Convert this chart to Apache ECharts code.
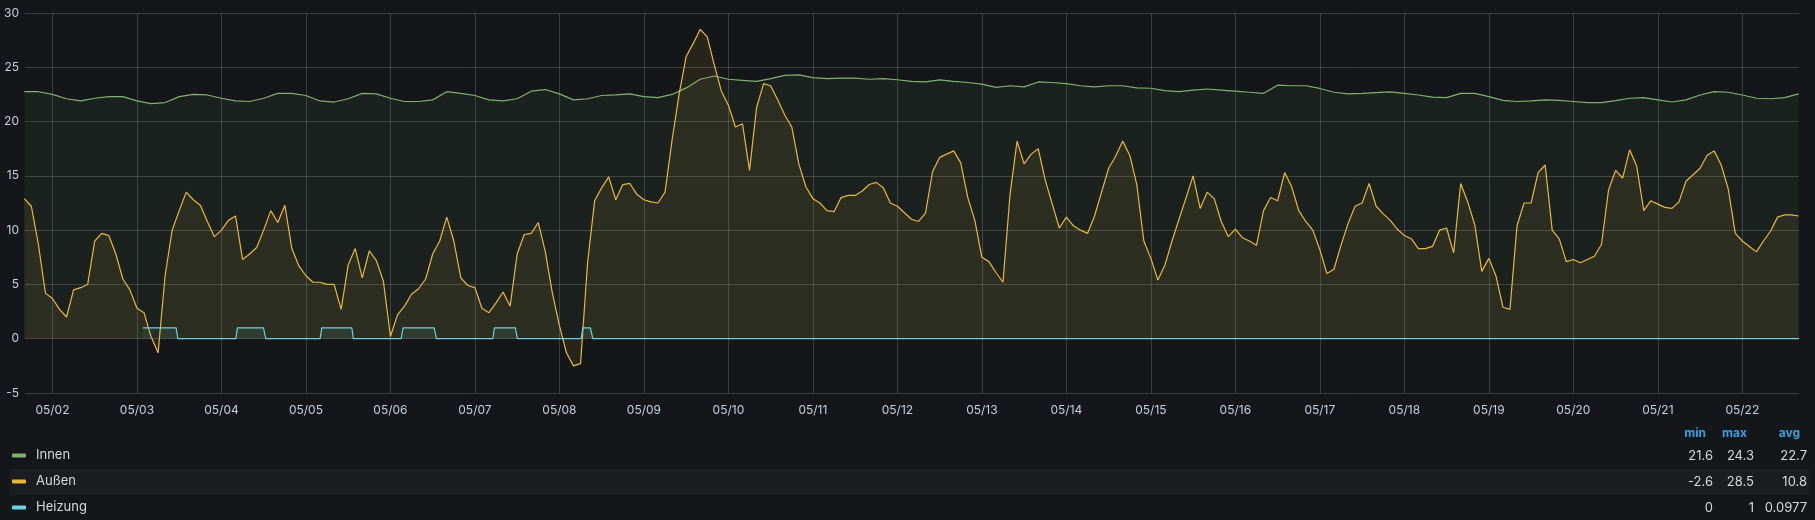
<!DOCTYPE html>
<html><head><meta charset="utf-8">
<script src="https://cdn.jsdelivr.net/npm/echarts@6/dist/echarts.min.js"></script>
<style>html,body{margin:0;padding:0;background:#141619;}#c{width:1815px;height:520px;}</style>
</head><body><div id="c"></div>
<script>
const YEAR = 2021;
const seriesNames = ['Innen', 'Außen', 'Heizung'];
const seriesColors = ['#7EB26D', '#EAB839', '#6ED0E0'];
const seriesFill = [0.1, 0.12, 0.12];
const xMin = '05-01 16:12';
const xMax = '05-22 16:06';
const yMin = -5, yMax = 30, yStep = 5;

// Innen: every 4 hours from 05-01 16:00
const innenStart = '05-01 16:00';
const innenStepHours = 4;
const innen = [22.76,22.75,22.5,22.1,21.9,22.15,22.3,22.3,21.9,21.65,
21.75,22.3,22.5,22.45,22.15,21.9,21.85,22.15,22.6,22.6,
22.4,21.9,21.8,22.1,22.6,22.55,22.15,21.85,21.85,22.0,
22.75,22.6,22.4,22.0,21.9,22.1,22.8,22.95,22.55,22.0,
22.1,22.4,22.45,22.55,22.3,22.2,22.5,23.1,23.9,24.2,
23.9,23.8,23.7,23.95,24.25,24.3,24.05,23.95,24.0,24.0,
23.9,23.95,23.85,23.7,23.65,23.84,23.7,23.6,23.45,23.15,
23.3,23.2,23.65,23.6,23.5,23.3,23.2,23.3,23.3,23.1,
23.07,22.85,22.75,22.9,23.0,22.9,22.8,22.7,22.6,23.35,
23.3,23.3,23.05,22.7,22.55,22.6,22.67,22.73,22.6,22.45,
22.25,22.2,22.6,22.6,22.3,21.95,21.85,21.9,22.0,21.95,
21.85,21.75,21.75,21.93,22.15,22.2,22.0,21.8,22.0,22.45,
22.76,22.7,22.45,22.15,22.1,22.2,22.55];

// Außen: every 2 hours from 05-01 16:00
const aussenStart = '05-01 16:00';
const aussenStepHours = 2;
const aussen = [12.9,12.2,8.7,4.2,3.7,2.7,2.0,4.5,4.7,5.0,
9.0,9.7,9.5,7.8,5.5,4.5,2.8,2.4,0.2,-1.3,
5.8,10.0,11.8,13.5,12.8,12.3,10.8,9.4,10.0,10.9,
11.3,7.3,7.8,8.4,10.0,11.8,10.7,12.3,8.3,6.7,
5.8,5.2,5.2,5.0,5.0,2.7,6.8,8.3,5.6,8.1,
7.2,5.3,0.2,2.2,3.0,4.1,4.6,5.5,7.8,9.0,
11.2,9.0,5.6,4.9,4.7,2.8,2.4,3.3,4.3,3.0,
7.8,9.6,9.7,10.7,8.0,4.2,1.2,-1.3,-2.5,-2.3,
7.0,12.7,13.9,14.9,12.8,14.2,14.3,13.3,12.8,12.6,
12.5,13.5,18.3,22.5,26.0,27.2,28.5,27.8,25.2,22.8,
21.5,19.5,19.8,15.5,21.3,23.5,23.3,22.0,20.6,19.5,
16.1,14.0,12.9,12.5,11.8,11.7,13.0,13.2,13.2,13.6,
14.2,14.4,13.9,12.5,12.2,11.6,11.0,10.8,11.6,15.4,
16.7,17.0,17.3,16.2,13.0,10.9,7.5,7.1,6.1,5.2,
13.3,18.2,16.1,17.0,17.5,14.6,12.4,10.2,11.2,10.4,
10.0,9.7,11.3,13.5,15.7,16.8,18.2,16.9,14.2,9.0,
7.4,5.4,6.8,9.0,11.0,13.0,15.0,12.0,13.5,12.9,
10.8,9.4,10.1,9.3,9.0,8.6,11.8,13.0,12.7,15.3,
14.0,11.8,10.8,10.0,8.2,6.0,6.4,8.6,10.6,12.2,
12.5,14.3,12.2,11.5,10.9,10.1,9.5,9.2,8.3,8.3,
8.5,10.0,10.2,7.9,14.3,12.6,10.5,6.2,7.4,5.8,
2.9,2.7,10.4,12.5,12.5,15.3,16.0,10.0,9.2,7.1,
7.3,7.0,7.3,7.6,8.7,13.7,15.5,14.8,17.4,15.9,
11.8,12.7,12.4,12.1,12.0,12.6,14.5,15.1,15.7,16.9,
17.3,16.0,13.8,9.7,9.0,8.5,8.0,9.0,9.9,11.2,
11.4,11.4,11.3];

// Heizung: on/off switching points
const heizungTimes = ['05-03 01:41','05-03 11:08','05-03 11:37',
'05-04 04:05','05-04 04:32','05-04 11:56','05-04 12:36',
'05-05 04:02','05-05 04:30','05-05 13:02','05-05 13:29',
'05-06 03:03','05-06 03:36','05-06 12:25','05-06 13:05',
'05-07 05:05','05-07 05:32','05-07 11:30','05-07 12:04',
'05-08 06:10','05-08 06:39','05-08 08:48','05-08 09:29',
'05-22 16:06'];
const heizungValues = [1,1,0, 0,1,1,0, 0,1,1,0, 0,1,1,0, 0,1,1,0, 0,1,1,0, 0];

// Legend table (as shown in the reference)
const statHeaders = ['min', 'max', 'avg'];
const statMin = ['21.6', '-2.6', '0'];
const statMax = ['24.3', '28.5', '1'];
const statAvg = ['22.7', '10.8', '0.0977'];

function t(s) {
  const [md, hm] = s.split(' ');
  const [mo, d] = md.split('-').map(Number);
  const [h, m] = hm.split(':').map(Number);
  return new Date(YEAR, mo - 1, d, h, m).getTime();
}
function regular(startStr, stepH, vals) {
  const s = t(startStr);
  return vals.map((v, i) => [s + i * stepH * 3600000, v]);
}

const font = 'Inter, Roboto, sans-serif';
const textCol = '#c7d0d9';
const gridCol = 'rgba(255,255,255,0.17)';
const rowY = [456, 482, 508];

const chart = echarts.init(document.getElementById('c'), null, {renderer: 'canvas'});

const legends = seriesNames.map((n, i) => ({
  data: [n], left: 12, top: rowY[i] - 7, padding: 0, orient: 'horizontal',
  icon: 'roundRect', itemWidth: 14, itemHeight: 4, selectedMode: false,
  textStyle: {color: '#d8d9da', fontSize: 13, fontFamily: font, padding: [0, 0, 0, 5]}
}));

const graphics = [{
  type: 'rect', z: -10, silent: true,
  shape: {x: 10, y: 469, width: 1800, height: 26},
  style: {fill: '#1b1d21'}
}];
const headX = [1706, 1747, 1800];
statHeaders.forEach((h, i) => graphics.push({
  type: 'text', silent: true,
  style: {text: h, x: headX[i], y: 433, textAlign: 'right', textVerticalAlign: 'middle',
    fill: '#33a2e5', font: 'bold 12px ' + font}
}));
const colX = [1713, 1754, 1807];
[statMin, statMax, statAvg].forEach((col, ci) => col.forEach((v, ri) => graphics.push({
  type: 'text', silent: true,
  style: {text: v, x: colX[ci], y: rowY[ri], textAlign: 'right', textVerticalAlign: 'middle',
    fill: '#d8d9da', font: '13px ' + font}
})));

function hexA(hex, a) {
  const r = parseInt(hex.slice(1, 3), 16), g = parseInt(hex.slice(3, 5), 16), b = parseInt(hex.slice(5, 7), 16);
  return `rgba(${r},${g},${b},${a})`;
}
const datasets = [
  regular(innenStart, innenStepHours, innen),
  regular(aussenStart, aussenStepHours, aussen),
  heizungTimes.map((s, i) => [t(s), heizungValues[i]])
];

chart.setOption({
  backgroundColor: '#141619',
  animation: false,
  textStyle: {fontFamily: font},
  grid: {left: 25, right: 16, top: 13, bottom: 127, containLabel: false},
  legend: legends,
  graphic: graphics,
  xAxis: {
    type: 'time', min: t(xMin), max: t(xMax),
    minInterval: 86400000, maxInterval: 86400000, splitNumber: 21,
    axisLine: {show: false}, axisTick: {show: false},
    axisLabel: {color: textCol, fontSize: 12, fontFamily: font, margin: 11,
      formatter: '{MM}/{dd}', showMinLabel: false, showMaxLabel: false, hideOverlap: false},
    splitLine: {show: true, showMinLine: false, showMaxLine: false, lineStyle: {color: gridCol, width: 1}}
  },
  yAxis: {
    type: 'value', min: yMin, max: yMax, interval: yStep,
    axisLine: {show: false}, axisTick: {show: false},
    axisLabel: {color: textCol, fontSize: 12, fontFamily: font, margin: 6},
    splitLine: {show: true, lineStyle: {color: gridCol, width: 1}}
  },
  series: seriesNames.map((n, i) => ({
    name: n, type: 'line', data: datasets[i], symbol: 'none', showSymbol: false,
    z: 2 + i, clip: true,
    lineStyle: {color: seriesColors[i], width: 1.2},
    itemStyle: {color: seriesColors[i]},
    areaStyle: {color: hexA(seriesColors[i], seriesFill[i]), origin: 'auto'}
  }))
});
</script></body></html>
